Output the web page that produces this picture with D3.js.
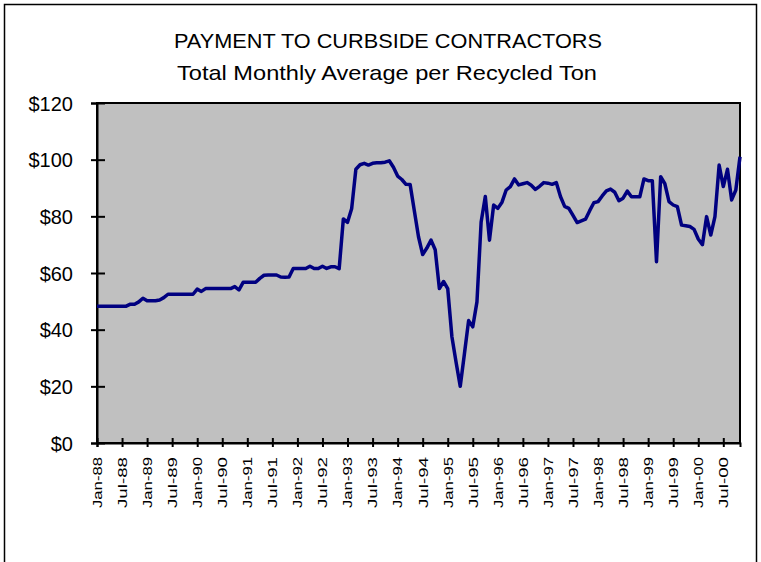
<!DOCTYPE html>
<html>
<head>
<meta charset="utf-8">
<script src="https://cdn.jsdelivr.net/npm/d3@7"></script>
<style>
  body { margin: 0; background: #fff; }
  text { font-family: "Liberation Sans", Arial, sans-serif; fill: #000; }
</style>
</head>
<body>
<div id="chart"></div>
<script>
// Monthly values, Jan-88 .. Nov-00
const values = [
  48.3, 48.3, 48.3, 48.3, 48.3, 48.3, 48.3, 48.3, 49.0, 49.0,
  49.8, 51.1, 50.2, 50.2, 50.2, 50.5, 51.3, 52.5, 52.5, 52.5,
  52.5, 52.5, 52.5, 52.5, 54.3, 53.5, 54.5, 54.5, 54.5, 54.5,
  54.5, 54.5, 54.5, 55.2, 54.0, 56.7, 56.7, 56.7, 56.7, 58.1,
  59.2, 59.3, 59.3, 59.3, 58.6, 58.5, 58.6, 61.6, 61.6, 61.6,
  61.6, 62.4, 61.6, 61.6, 62.4, 61.6, 62.2, 62.2, 61.5, 79.1,
  77.9, 82.8, 96.6, 98.2, 98.7, 98.1, 98.7, 98.9, 98.9, 99.1,
  99.6, 97.3, 94.2, 93.0, 91.3, 91.2, 82.0, 72.8, 66.5, 68.8,
  71.6, 68.2, 54.5, 57.0, 54.5, 37.5, 28.5, 20.0, 31.5, 43.2,
  41.0, 49.8, 78.0, 87.0, 71.6, 84.0, 82.8, 85.0, 89.3, 90.5,
  93.2, 91.1, 91.5, 91.9, 91.0, 89.5, 90.6, 91.9, 91.7, 91.3,
  91.9, 87.0, 83.5, 82.8, 80.3, 77.8, 78.4, 79.0, 82.0, 84.8,
  85.2, 87.2, 89.0, 89.6, 88.5, 85.5, 86.4, 88.9, 86.9, 86.9,
  86.9, 93.2, 92.6, 92.6, 64.0, 94.0, 91.5, 85.2, 84.0, 83.4,
  76.9, 76.7, 76.4, 75.4, 72.0, 70.0, 79.9, 73.4, 79.9, 98.1,
  90.5, 96.6, 85.8, 89.3, 101.0
];

// one label every 6 months
const tickLabels = [
  "Jan-88", "Jul-88", "Jan-89", "Jul-89", "Jan-90", "Jul-90",
  "Jan-91", "Jul-91", "Jan-92", "Jul-92", "Jan-93", "Jul-93",
  "Jan-94", "Jul-94", "Jan-95", "Jul-95", "Jan-96", "Jul-96",
  "Jan-97", "Jul-97", "Jan-98", "Jul-98", "Jan-99", "Jul-99",
  "Jan-00", "Jul-00"
];
const yTicks = [0, 20, 40, 60, 80, 100, 120];

const title = "PAYMENT TO CURBSIDE CONTRACTORS";
const subtitle = "Total Monthly Average per Recycled Ton";

const W = 761, H = 562;
const margin = { top: 103, left: 97, right: 21, bottom: 119 };
const pw = W - margin.left - margin.right;
const ph = H - margin.top - margin.bottom;

const svg = d3.select("#chart").append("svg")
  .attr("width", W)
  .attr("height", H);

// outer frame
svg.append("rect")
  .attr("x", 4.5).attr("y", 4.5)
  .attr("width", 752).attr("height", 580)
  .attr("fill", "none")
  .attr("stroke", "#000")
  .attr("stroke-width", 1.5);

svg.append("text")
  .attr("x", 388).attr("y", 48)
  .attr("text-anchor", "middle")
  .attr("textLength", 428)
  .attr("lengthAdjust", "spacingAndGlyphs")
  .style("font-size", "21px")
  .text(title);

svg.append("text")
  .attr("x", 387).attr("y", 80)
  .attr("text-anchor", "middle")
  .attr("textLength", 420)
  .attr("lengthAdjust", "spacingAndGlyphs")
  .style("font-size", "21px")
  .text(subtitle);

const g = svg.append("g")
  .attr("transform", `translate(${margin.left},${margin.top})`);

const x = d3.scaleLinear().domain([0, values.length - 1]).range([0, pw]);
const y = d3.scaleLinear().domain([0, 120]).range([ph, 0]);

g.append("rect")
  .attr("width", pw).attr("height", ph)
  .attr("fill", "#c0c0c0")
  .attr("stroke", "#000")
  .attr("stroke-width", 2);

// y axis
const yAxis = g.append("g")
  .call(d3.axisLeft(y).tickValues(yTicks).tickSize(6).tickFormat(d => "$" + d));
yAxis.select(".domain").attr("stroke-width", 2);
yAxis.selectAll(".tick line")
  .attr("x1", 8).attr("x2", -6)
  .attr("stroke-width", 2);
yAxis.selectAll(".tick text")
  .attr("x", -24)
  .attr("dy", "0.36em")
  .style("font-size", "20px")
  .style("font-family", "'Liberation Sans', Arial, sans-serif");

// x axis
const xTickIdx = tickLabels.map((d, i) => i * 6);
const xAxis = g.append("g")
  .attr("transform", `translate(0,${ph})`)
  .call(d3.axisBottom(x).tickValues(xTickIdx).tickSize(4)
    .tickFormat((d, i) => tickLabels[i]));
xAxis.select(".domain").attr("stroke-width", 2);
xAxis.selectAll(".tick line")
  .attr("y1", -5).attr("y2", 4)
  .attr("stroke-width", 2);
xAxis.selectAll(".tick text")
  .attr("transform", "rotate(-90)")
  .attr("text-anchor", "end")
  .attr("x", -14)
  .attr("y", 0)
  .attr("dy", "0.36em")
  .attr("textLength", 51)
  .attr("lengthAdjust", "spacingAndGlyphs")
  .style("font-size", "12px")
  .style("font-family", "'Liberation Sans', Arial, sans-serif");

// data line
const line = d3.line()
  .x((d, i) => x(i))
  .y(d => y(d));

g.append("path")
  .datum(values)
  .attr("fill", "none")
  .attr("stroke", "#000080")
  .attr("stroke-width", 3.5)
  .attr("stroke-linejoin", "round")
  .attr("d", line);
</script>
</body>
</html>
